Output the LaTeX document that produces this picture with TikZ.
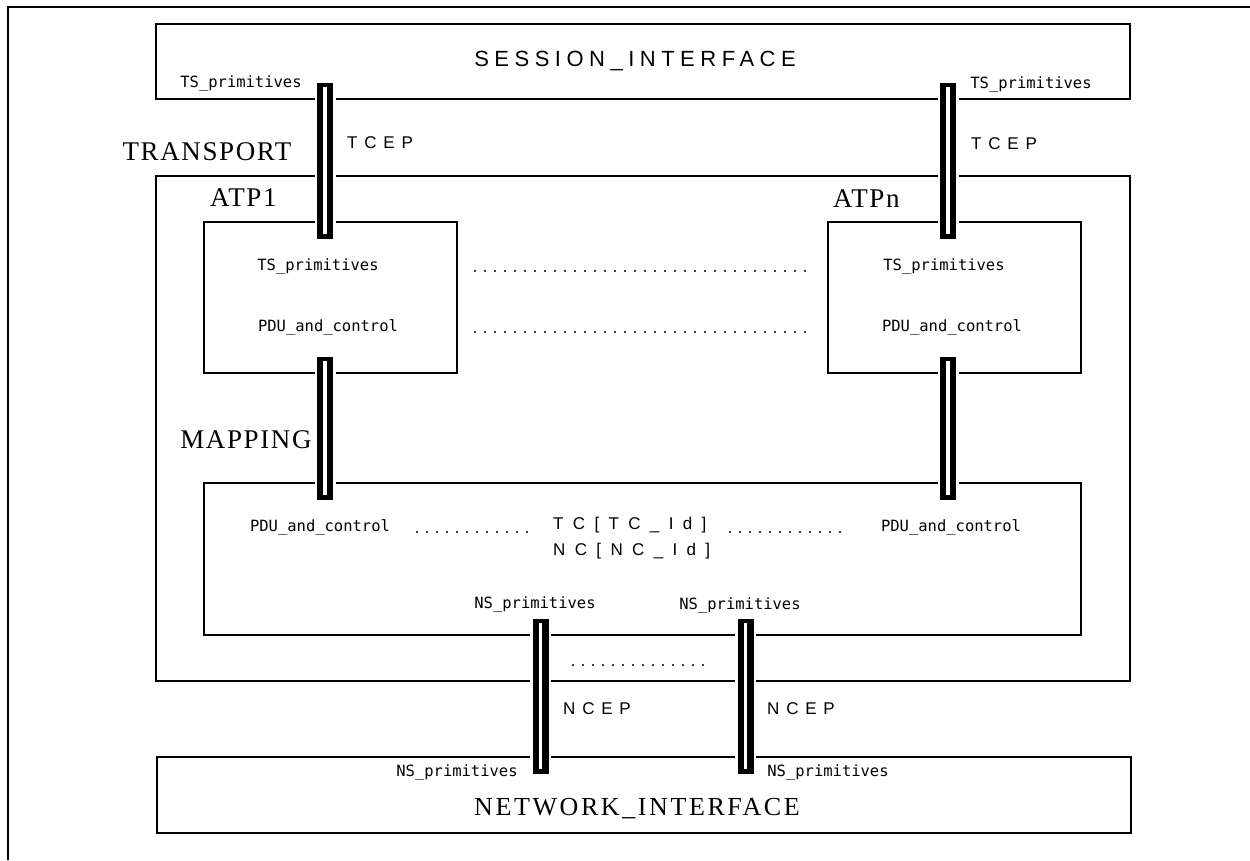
\documentclass[tikz,border=0pt]{standalone}
\usepackage{fontspec}
\setmainfont{Liberation Serif}
\newfontfamily\monof{DejaVu Sans Mono}
\newfontfamily\tcepf[LetterSpace=40]{Liberation Sans}
\newfontfamily\idf[LetterSpace=55]{Liberation Sans}
\newfontfamily\sif[LetterSpace=25]{Liberation Sans}
\newfontfamily\nif[LetterSpace=10]{Liberation Serif}
\newfontfamily\lblf[LetterSpace=6]{Liberation Serif}
\begin{document}
\begin{tikzpicture}[x=1pt,y=-1pt,
  box/.style={draw, line width=2pt, inner sep=0pt, anchor=north west},
  small/.style={inner sep=0pt, font=\monof\fontsize{15.5}{15.5}\selectfont},
  spaced/.style={inner sep=0pt, anchor=west, font=\tcepf\fontsize{17}{17}\selectfont},
  idlbl/.style={inner sep=0pt, anchor=west, font=\idf\fontsize{17}{17}\selectfont},
  biglbl/.style={inner sep=0pt, font=\lblf\fontsize{27}{27}\selectfont},
  bar/.style={line width=16pt, shorten <=-17.5pt, shorten >=-17.5pt,
    preaction={draw=white, line width=21pt, shorten <=-17.5pt, shorten >=-17.5pt},
    postaction={draw=white, line width=3.5pt, shorten <=-13pt, shorten >=-13pt}},
  dots/.style={line width=2.2pt, dash pattern=on 0pt off 10pt, line cap=round}]
\useasboundingbox (0,0) rectangle (1250,860);
% outer frame
\draw[line width=2pt] (8,860) -- (8,7) -- (1250,7);
% boxes
\node[box, minimum width=974pt, minimum height=75pt] (session) at (155,23) {};
\node[box, minimum width=974pt, minimum height=505pt] (transport) at (155,175) {};
\node[box, minimum width=253pt, minimum height=151pt] (atp1) at (203,221) {};
\node[box, minimum width=253pt, minimum height=151pt] (atpn) at (827,221) {};
\node[box, minimum width=877pt, minimum height=152pt] (mapping) at (203,482) {};
\node[box, minimum width=974pt, minimum height=76pt] (network) at (156,756) {};
% bar positions
\coordinate (xl) at (325,0);
\coordinate (xr) at (948,0);
\coordinate (xnl) at (540.5,0);
\coordinate (xnr) at (745.5,0);
% bars
\draw[bar] (session.south -| xl) -- (atp1.north -| xl);
\draw[bar] (session.south -| xr) -- (atpn.north -| xr);
\draw[bar] (atp1.south -| xl) -- (mapping.north -| xl);
\draw[bar] (atpn.south -| xr) -- (mapping.north -| xr);
\draw[bar] (mapping.south -| xnl) -- (network.north -| xnl);
\draw[bar] (mapping.south -| xnr) -- (network.north -| xnr);
% big labels
\node[inner sep=0pt, font=\sif\fontsize{22}{22}\selectfont] (sit) at (635,61) {SESSION\_INTERFACE};
\node[inner sep=0pt, font=\nif\fontsize{26}{26}\selectfont] (nit) at (637,809) {NETWORK\_INTERFACE};
\node[biglbl] (tr) at (207,152) {TRANSPORT};
\node[biglbl] (mp) at (246,440) {MAPPING};
\node[biglbl, anchor=west] (a1) at (210,198) {ATP1};
\node[biglbl, anchor=west] (an) at (833,199) {ATPn};
% session labels
\node[small] (ts1) at (241,83) {TS\_primitives};
\node[small] (ts2) at (1031,84) {TS\_primitives};
\node[spaced] (tc1) at (347,143) {TCEP};
\node[spaced] (tc2) at (971,144) {TCEP};
% ATP labels
\node[small] (ts3) at (318,266) {TS\_primitives};
\node[small] (ts4) at (944,266) {TS\_primitives};
\node[small] (pd1) at (328,327) {PDU\_and\_control};
\node[small] (pd2) at (952,327) {PDU\_and\_control};
\coordinate (d1a) at (475,271);
\coordinate (d1b) at (808,271);
\coordinate (d2a) at (475,332);
\coordinate (d2b) at (808,332);
\draw[dots] (d1a) -- (d1b);
\draw[dots] (d2a) -- (d2b);
% mapping labels
\node[small] (pd3) at (320,527) {PDU\_and\_control};
\node[small] (pd4) at (951,527) {PDU\_and\_control};
\node[idlbl] (tcid) at (553,525) {TC[TC\_Id]};
\node[idlbl] (ncid) at (553,551) {NC[NC\_Id]};
\coordinate (d3a) at (417,532);
\coordinate (d3b) at (537,532);
\coordinate (d4a) at (730,532);
\coordinate (d4b) at (850,532);
\draw[dots] (d3a) -- (d3b);
\draw[dots] (d4a) -- (d4b);
\node[small] (ns1) at (535,604) {NS\_primitives};
\node[small] (ns2) at (740,605) {NS\_primitives};
% network labels
\node[small] (ns3) at (457,772) {NS\_primitives};
\node[small] (ns4) at (828,772) {NS\_primitives};
\node[spaced] (nc1) at (563,709) {NCEP};
\node[spaced] (nc2) at (767,709) {NCEP};
\coordinate (d5a) at (573,665);
\coordinate (d5b) at (713,665);
\draw[dots] (d5a) -- (d5b);
\end{tikzpicture}
\end{document}
